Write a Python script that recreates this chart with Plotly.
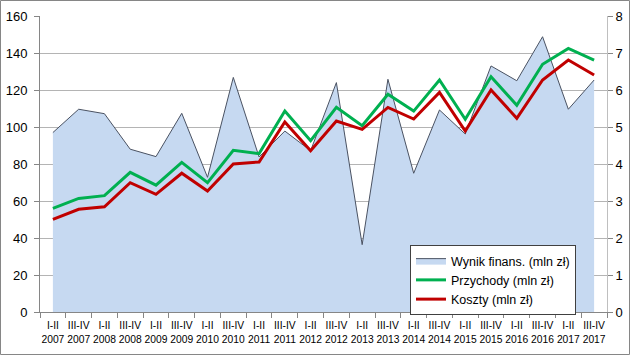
import plotly.graph_objects as go

periods = ["I-II", "III-IV"] * 11
years = [str(y) for y in range(2007, 2018) for _ in range(2)]
categories = [f"{p}<br>{y}" for p, y in zip(periods, years)]

# Wynik finansowy (right axis, mln zł)
wynik = [4.85, 5.48, 5.36, 4.40, 4.20, 5.37, 3.64, 6.34, 4.19, 4.89, 4.36,
         6.20, 1.82, 6.29, 3.75, 5.46, 4.81, 6.65, 6.25, 7.44, 5.48, 6.27]
# Przychody (left axis, mln zł)
przychody = [56.0, 61.4, 62.9, 75.5, 68.6, 80.9, 69.9, 87.4, 85.6, 108.6, 92.6,
             110.6, 100.7, 117.7, 108.6, 125.4, 104.2, 127.2, 111.7, 133.9, 142.5, 136.2]
# Koszty (left axis, mln zł)
koszty = [50.1, 55.5, 56.9, 69.9, 63.6, 75.0, 65.4, 80.0, 81.1, 102.7, 87.2,
          103.2, 98.7, 110.6, 104.3, 118.7, 97.8, 120.0, 104.7, 125.4, 136.2, 128.1]

left_ticks = list(range(0, 161, 20))
right_ticks = list(range(0, 9))

FONT = "Liberation Sans"
W, H = 630, 355
L, R, T, B = 40, 23, 16, 43
pw, ph = W - L - R, H - T - B

fig = go.Figure()
fig.add_trace(go.Scatter(
    x=categories, y=wynik, name="Wynik finans. (mln zł)",
    mode="lines", fill="tozeroy", fillcolor="rgb(198,217,241)",
    line=dict(color="#4a5262", width=1), yaxis="y", xaxis="x"))
fig.add_trace(go.Scatter(
    x=categories, y=przychody, name="Przychody (mln zł)",
    mode="lines", line=dict(color="#00B050", width=3), yaxis="y2", xaxis="x"))
fig.add_trace(go.Scatter(
    x=categories, y=koszty, name="Koszty (mln zł)",
    mode="lines", line=dict(color="#C00000", width=3), yaxis="y2", xaxis="x"))

fig.update_layout(
    width=W, height=H,
    margin=dict(l=L, r=R, t=T, b=B, autoexpand=False),
    paper_bgcolor="white", plot_bgcolor="white",
    font=dict(family=FONT, size=13, color="#000000"),
    showlegend=True,
    legend=dict(
        x=(410 - L) / pw, y=(H - B - 245) / ph, xanchor="left", yanchor="top",
        bgcolor="white", bordercolor="#404040", borderwidth=1,
        font=dict(family=FONT, size=12.5, color="#000"),
        tracegroupgap=0, itemwidth=30),
    xaxis=dict(
        type="category", tickson="boundaries", ticks="outside", ticklen=5,
        tickcolor="#868686", showline=True, linecolor="#868686", linewidth=1,
        showgrid=False, tickfont=dict(family=FONT, size=10.3), tickangle=0,
        ticklabelstandoff=4,
        range=[-0.5, 21.5], automargin=False),
    yaxis=dict(
        side="right", range=[0, 8], tickvals=right_ticks,
        ticks="outside", ticklen=5, tickcolor="#868686",
        showline=True, linecolor="#BFBFBF", linewidth=1,
        showgrid=True, gridcolor="#B4B4B4", gridwidth=1,
        zeroline=False, tickfont=dict(family=FONT, size=13), automargin=False),
    yaxis2=dict(
        side="left", overlaying="y", range=[0, 160], tickvals=left_ticks,
        ticks="outside", ticklen=5, tickcolor="#868686",
        showline=True, linecolor="#868686", linewidth=1,
        showgrid=False, zeroline=False, tickfont=dict(family=FONT, size=13),
        ticklabelstandoff=4, automargin=False),
)

fig.add_shape(type="rect", xref="paper", yref="paper",
              x0=(0.5 - L) / pw, x1=(W - 0.5 - L) / pw,
              y0=(H - B - (H - 0.5)) / ph, y1=(H - B - 0.5) / ph,
              line=dict(color="#868686", width=1), fillcolor="rgba(0,0,0,0)",
              layer="above")

fig.write_html("out.html", config={"displayModeBar": False},
               post_script="document.body.style.margin='0';document.body.style.overflow='hidden';")
